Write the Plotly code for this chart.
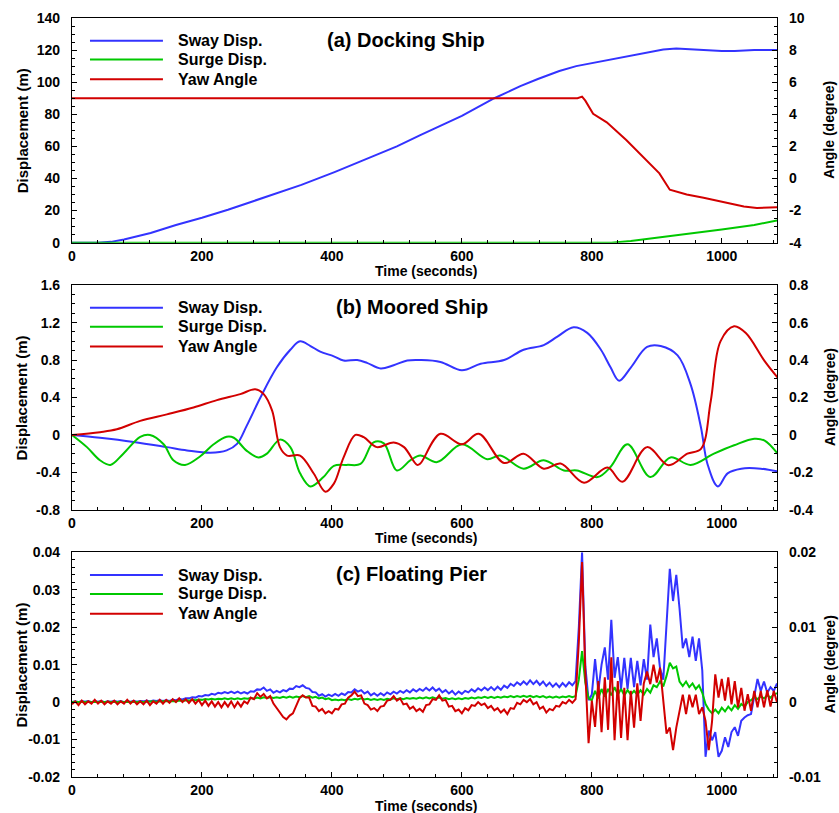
import plotly.graph_objects as go
from plotly.subplots import make_subplots

FONT = "Liberation Sans, Arial, sans-serif"
BLUE = "rgb(51,51,255)"
GREEN = "rgb(0,200,0)"
RED = "rgb(210,0,0)"

# ---------------- (a) Docking Ship ----------------
t_a_sway = [0, 40, 60, 80, 121, 160, 200, 240, 280, 320, 353, 404, 456, 500, 536, 600,
            650, 690, 717, 750, 776, 810, 843, 880, 910, 930, 950, 975, 1000, 1020, 1050, 1085]
sway_a = [0, 0, 0.5, 2, 6, 11, 15.5, 20.5, 26, 31.5, 36, 44, 52.6, 60, 67, 79,
          90, 97.5, 102, 107, 110, 112.5, 115, 118, 120.3, 121, 120.5, 120, 119.5, 119.5, 120, 120]
t_a_surge = [0, 830, 860, 900, 950, 1000, 1050, 1085]
surge_a = [0, 0, 1, 3, 5.5, 8.2, 11, 13.8]
t_a_yaw = [0, 778, 785, 790, 802, 823, 853, 884, 904, 920, 946, 972, 1008, 1034, 1054, 1070, 1085]
yaw_a = [5, 5, 5.1, 4.85, 4.03, 3.5, 2.4, 1.15, 0.32, -0.7, -1.0, -1.2, -1.5, -1.74, -1.84, -1.84, -1.8]

# ---------------- (b) Moored Ship ----------------
t_b_sway = [0, 43, 95, 146, 177, 213, 238, 254, 269, 290, 315, 336, 351, 367, 382, 403,
            418, 439, 454, 475, 495, 516, 536, 567, 600, 629, 665, 695, 726, 747, 772, 793,
            814, 829, 842, 860, 885, 906, 932, 952, 968, 978, 994, 1009, 1030, 1060, 1086]
sway_b = [0, -0.03, -0.075, -0.13, -0.165, -0.19, -0.165, -0.095, 0.1, 0.4, 0.72, 0.91, 1.0, 0.95, 0.89, 0.84,
          0.795, 0.8, 0.77, 0.71, 0.745, 0.795, 0.8, 0.78, 0.69, 0.76, 0.8, 0.91, 0.96, 1.05, 1.15, 1.09,
          0.91, 0.72, 0.58, 0.72, 0.94, 0.95, 0.85, 0.54, 0.08, -0.31, -0.55, -0.41, -0.36, -0.36, -0.39]
t_b_surge = [0, 23, 43, 59, 79, 105, 120, 141, 156, 174, 197, 218, 238, 249, 269, 287, 300,
             320, 336, 351, 367, 387, 403, 423, 444, 464, 480, 500, 521, 536, 562, 600, 639,
             659, 695, 726, 757, 777, 809, 829, 855, 890, 921, 952, 988, 1019, 1050, 1066, 1086]
surge_b = [0, -0.13, -0.27, -0.32, -0.2, -0.02, 0, -0.1, -0.27, -0.32, -0.23, -0.1, -0.02, -0.03, -0.17, -0.24, -0.2,
           -0.05, -0.13, -0.41, -0.55, -0.45, -0.33, -0.32, -0.31, -0.08, -0.09, -0.38, -0.27, -0.22, -0.29, -0.1, -0.26,
           -0.22, -0.36, -0.27, -0.38, -0.38, -0.45, -0.34, -0.1, -0.45, -0.24, -0.32, -0.2, -0.11, -0.04, -0.06, -0.2]
t_b_yaw = [0, 43, 69, 105, 146, 187, 223, 259, 282, 295, 308, 320, 331, 351, 372, 390, 403,
           418, 436, 449, 469, 495, 511, 531, 536, 567, 600, 626, 665, 695, 726, 752, 788,
           824, 847, 885, 918, 947, 968, 983, 998, 1019, 1037, 1066, 1086]
yaw_b = [0, 0.015, 0.03, 0.075, 0.11, 0.147, 0.186, 0.218, 0.244, 0.218, 0.13, -0.065, -0.11, -0.11, -0.206, -0.303, -0.26,
         -0.12, 0.0, -0.012, -0.065, -0.04, -0.065, -0.16, -0.153, 0.006, -0.05, 0.006, -0.15, -0.1, -0.18, -0.153, -0.255,
         -0.174, -0.25, -0.065, -0.162, -0.1, -0.074, 0.18, 0.5, 0.58, 0.544, 0.394, 0.306]

# ---------------- (c) Floating Pier ----------------
# sampled every 5 s; displacements in millimetres, yaw in millidegrees
t_c = list(range(0, 1086, 5))
sway_c_mm = [
    0, 0.2, 0, 0.3, 0.1, 0.3, 0, 0.2, 0.1, 0.3, 0, 0.2, 0.1, 0.3, 0.1, 0.3, 0, 0.2, 0.1, 0.3,
    0.1, 0.3, 0.2, 0.4, 0.2, 0.4, 0.3, 0.5, 0.3, 0.5, 0.3, 0.6, 0.5, 0.8, 0.7, 1.0, 1.0, 1.3, 1.2, 1.6,
    1.5, 1.9, 1.8, 2.2, 2.0, 2.5, 2.3, 2.7, 2.4, 2.8, 2.4, 2.8, 2.3, 2.7, 2.3, 2.9, 2.8, 3.4, 3.3, 3.9,
    3.0, 3.4, 2.5, 3.0, 2.6, 3.2, 2.9, 3.6, 3.5, 4.3, 4.0, 4.5, 3.8, 3.6, 2.7, 2.6, 1.7, 2.1, 1.5, 2.0,
    1.6, 2.2, 1.7, 2.3, 1.9, 2.7, 2.6, 3.4, 2.8, 3.2, 2.3, 2.8, 1.8, 2.4, 1.7, 2.4, 1.8, 2.6, 2.1, 2.8,
    2.3, 3.0, 2.5, 3.2, 2.6, 3.4, 2.8, 3.5, 3.0, 3.8, 3.1, 3.9, 3.0, 3.6, 2.6, 3.2, 2.3, 3.0, 2.0, 2.8,
    2.2, 3.0, 2.6, 3.4, 2.8, 3.7, 3.1, 3.9, 3.2, 4.0, 3.2, 4.1, 3.3, 4.4, 3.8, 4.9, 4.3, 5.3, 4.6, 5.5,
    4.7, 5.8, 4.8, 5.7, 4.6, 5.5, 4.3, 5.2, 4.1, 5.0, 4.0, 5.1, 4.2, 5.3, 4.5, 5.6, 20.0, 40.0, 9.6, 0.5,
    2.0, 11.5, 3.0, 10.0, 14.6, 6.0, 22.0, 6.5, 12.0, 3.5, 11.8, 3.5, 11.8, 4.0, 11.0, 4.5, 11.5, 6.0, 20.7, 12.0,
    17.0, 9.0, 6.0, 22.0, 35.6, 27.0, 34.0, 25.0, 14.4, 17.0, 12.0, 17.5, 11.0, 17.0, 8.4, -14.6, -7.6, -10.2, -8.0, -14.6,
    -13.0, -9.4, -12.0, -8.0, -6.7, -9.0, -5.0, -4.1, -3.5, -3.2, 1.2, 6.2, 3.0, 5.5, 2.5, 4.0, 3.0, 5.0,
]
surge_c_mm = [
    0, 0.1, 0, 0.1, 0, 0.1, 0, 0.1, 0, 0.1, 0, 0.1, 0, 0.1, 0, 0.1, 0, 0.1, 0, 0.1,
    0, 0.1, 0, 0.1, 0.1, 0.2, 0.1, 0.2, 0.1, 0.3, 0.2, 0.3, 0.2, 0.4, 0.3, 0.5, 0.4, 0.6, 0.5, 0.7,
    0.6, 0.8, 0.7, 0.9, 0.7, 0.9, 0.8, 1.0, 0.8, 1.0, 0.8, 1.0, 0.8, 1.0, 0.9, 1.1, 0.9, 1.2, 1.0, 1.3,
    1.1, 1.3, 1.1, 1.3, 1.1, 1.4, 1.2, 1.5, 1.2, 1.5, 1.3, 1.6, 1.3, 1.6, 1.2, 1.4, 1.0, 1.2, 0.8, 1.0,
    0.5, 0.7, 0.5, 0.7, 0.5, 0.8, 0.6, 0.9, 0.7, 1.0, 0.7, 0.9, 0.6, 0.8, 0.6, 0.8, 0.6, 0.9, 0.7, 1.0,
    0.8, 1.0, 0.8, 1.1, 0.9, 1.1, 0.9, 1.2, 1.0, 1.3, 1.0, 1.3, 1.0, 1.2, 0.9, 1.1, 0.8, 1.0, 0.8, 1.0,
    0.8, 1.1, 0.9, 1.2, 1.0, 1.3, 1.1, 1.4, 1.1, 1.4, 1.1, 1.4, 1.2, 1.5, 1.3, 1.6, 1.3, 1.6, 1.4, 1.7,
    1.4, 1.7, 1.3, 1.6, 1.3, 1.6, 1.2, 1.5, 1.2, 1.5, 1.2, 1.5, 1.3, 1.6, 1.3, 1.6, 6.0, 13.6, 5.2, 1.0,
    0.5, 3.0, 1.0, 3.5, 1.5, 3.5, 1.8, 4.0, 2.0, 3.5, 1.8, 3.2, 2.0, 3.0, 2.0, 3.2, 2.0, 3.5, 2.5, 4.5,
    4.0, 5.5, 4.2, 7.0, 10.5, 9.0, 9.5, 5.5, 4.3, 5.5, 4.0, 5.0, 3.5, 4.5, 2.5, -0.5, -2.0, -3.0, -2.0, -3.0,
    -1.5, -2.5, -1.2, -2.2, -0.8, -1.8, -0.5, -1.2, 0.0, 0.5, 1.3, 0.8, 1.5, 1.0, 1.8, 1.2, 2.0, 2.4,
]
yaw_c_mdeg = [
    -0.3, 0.1, -0.4, 0.2, -0.3, 0.1, -0.2, 0.3, -0.2, 0.2, -0.3, 0.1, -0.2, 0.2, -0.3, 0.1, -0.2, 0.3, -0.2, 0.2,
    -0.3, 0.1, -0.3, 0.2, -0.4, 0.1, -0.2, 0.3, -0.2, 0.3, -0.1, 0.4, 0.0, 0.5, 0.0, 0.4, -0.1, 0.4, -0.2, 0.3,
    -0.4, 0.2, -0.5, 0.1, -0.6, 0.0, -0.7, 0.0, -0.6, 0.1, -0.7, 0.0, -0.6, 0.1, -0.2, 0.6, 0.4, 1.2, 0.7, 1.1,
    0.5, 0.8, -0.2, -0.8, -1.5, -2.0, -2.3, -1.8, -1.5, -0.5, 0.5, 0.9, 0.6, 0.6, -0.5, -0.6, -1.2, -0.9, -1.5, -1.2,
    -1.5, -0.9, -1.0, -0.3, -0.2, 0.6, 0.9, 1.4, 0.8, 0.9, -0.2, -0.4, -1.0, -0.8, -1.2, -0.6, -0.5, 0.2, 0.3, 0.8,
    0.2, 0.5, -0.3, -0.2, -0.9, -0.6, -1.2, -0.9, -1.3, -0.4, -0.3, 0.4, 0.3, 0.9, 0.2, 0.3, -0.6, -0.5, -1.2, -1.0,
    -1.5, -0.8, -1.1, -0.4, -0.5, 0.0, -0.4, -0.2, -0.8, -0.5, -1.1, -0.8, -1.4, -1.0, -1.6, -0.8, -0.9, -0.1, -0.3, 0.3,
    0.0, 0.4, -0.3, 0.0, -0.9, -0.6, -1.4, -0.9, -1.1, -0.5, -0.6, 0.0, -0.2, 0.3, -0.1, 0.4, 8.0, 18.7, 3.9, -5.5,
    0.2, -3.3, 2.8, -4.0, 3.3, -3.7, 6.0, -5.1, 2.8, -4.8, 1.9, -5.1, 1.5, -3.4, 2.5, -2.5, 2.5, 4.1, 2.4, 5.0,
    2.6, 4.6, 0.6, -4.2, -3.4, -6.4, -3.4, -1.2, 1.0, -1.6, 1.0, -0.7, 1.0, -1.6, -0.7, -2.5, -6.4, -2.6, 3.7, 0.6,
    3.1, 0.2, 3.3, -0.3, 2.8, -0.7, 1.9, -1.15, 1.05, -1.15, 1.5, -0.7, 1.5, -0.7, 1.6, -0.6, 1.5, 0.0,
]
sway_c = [v / 1000 for v in sway_c_mm]
surge_c = [v / 1000 for v in surge_c_mm]
yaw_c = [v / 1000 for v in yaw_c_mdeg]

series_names = ["Sway Disp.", "Surge Disp.", "Yaw Angle"]
titles = ["(a) Docking Ship", "(b) Moored Ship", "(c) Floating Pier"]
title_x = [0.474, 0.482, 0.482]

left_ticks = [[0, 20, 40, 60, 80, 100, 120, 140],
              [-0.8, -0.4, 0, 0.4, 0.8, 1.2, 1.6],
              [-0.02, -0.01, 0, 0.01, 0.02, 0.03, 0.04]]
left_text = [["0", "20", "40", "60", "80", "100", "120", "140"],
             ["-0.8", "-0.4", "0", "0.4", "0.8", "1.2", "1.6"],
             ["-0.02", "-0.01", "0", "0.01", "0.02", "0.03", "0.04"]]
right_ticks = [[-4, -2, 0, 2, 4, 6, 8, 10],
               [-0.4, -0.2, 0, 0.2, 0.4, 0.6, 0.8],
               [-0.01, 0, 0.01, 0.02]]
right_text = [["-4", "-2", "0", "2", "4", "6", "8", "10"],
              ["-0.4", "-0.2", "0", "0.2", "0.4", "0.6", "0.8"],
              ["-0.01", "0", "0.01", "0.02"]]
left_minor = [5, 0.1, 0.002]
right_minor = [0.5, 0.05, 0.002]
time_ticks = [0, 200, 400, 600, 800, 1000]

fig = make_subplots(rows=3, cols=1, specs=[[{"secondary_y": True}]] * 3)

panels = [
    ((t_a_sway, sway_a), (t_a_surge, surge_a), (t_a_yaw, yaw_a), "linear"),
    ((t_b_sway, sway_b), (t_b_surge, surge_b), (t_b_yaw, yaw_b), "spline"),
    ((t_c, sway_c), (t_c, surge_c), (t_c, yaw_c), "linear"),
]
for i, (sw, su, ya, shape) in enumerate(panels):
    row = i + 1
    fig.add_trace(go.Scatter(x=sw[0], y=sw[1], mode="lines", name=series_names[0],
                             line=dict(color=BLUE, width=2, shape=shape), showlegend=False),
                  row=row, col=1, secondary_y=False)
    fig.add_trace(go.Scatter(x=su[0], y=su[1], mode="lines", name=series_names[1],
                             line=dict(color=GREEN, width=2, shape=shape), showlegend=False),
                  row=row, col=1, secondary_y=False)
    fig.add_trace(go.Scatter(x=ya[0], y=ya[1], mode="lines", name=series_names[2],
                             line=dict(color=RED, width=2, shape=shape), showlegend=False),
                  row=row, col=1, secondary_y=True)

tick_font = dict(family=FONT, size=14, color="black", weight="bold")
domains = [[0.704, 1.0], [0.352, 0.648], [0.0, 0.296]]
layout = {}
for i in range(3):
    xname = "xaxis" if i == 0 else f"xaxis{i + 1}"
    yl = "yaxis" if i == 0 else f"yaxis{2 * i + 1}"
    yr = f"yaxis{2 * i + 2}"
    layout[xname] = dict(domain=[0, 1], range=[0, 1085], tickmode="array", tickvals=time_ticks,
                         ticktext=[str(v) for v in time_ticks], ticks="inside", ticklen=5,
                         minor=dict(tick0=0, dtick=40, ticks="inside", ticklen=3, tickcolor="black"),
                         showline=True, linecolor="black", linewidth=1.2, mirror=True,
                         showgrid=False, zeroline=False, tickfont=tick_font, tickcolor="black",
                         ticklabelstandoff=0)
    layout[yl] = dict(domain=domains[i], range=[left_ticks[i][0], left_ticks[i][-1]],
                      tickmode="array", tickvals=left_ticks[i], ticktext=left_text[i],
                      ticks="inside", ticklen=5, tickcolor="black",
                      minor=dict(tick0=0, dtick=left_minor[i], ticks="inside", ticklen=3, tickcolor="black"),
                      showline=True, linecolor="black", linewidth=1.2, showgrid=False, zeroline=False,
                      tickfont=tick_font, ticklabelstandoff=8)
    layout[yr] = dict(domain=domains[i], range=[right_ticks[i][0], right_ticks[i][-1]],
                      tickmode="array", tickvals=right_ticks[i], ticktext=right_text[i],
                      ticks="inside", ticklen=5, tickcolor="black",
                      minor=dict(tick0=0, dtick=right_minor[i], ticks="inside", ticklen=3, tickcolor="black"),
                      showline=True, linecolor="black", linewidth=1.2, showgrid=False, zeroline=False,
                      tickfont=tick_font, ticklabelstandoff=8, anchor="x" if i == 0 else f"x{i + 1}")

fig.update_layout(**layout)

label_font = dict(family=FONT, size=15, color="black", weight="bold")
shapes = []
annotations = []
for i in range(3):
    xr = "x" if i == 0 else f"x{i + 1}"
    yb = "y" if i == 0 else f"y{2 * i + 1}"
    # panel title
    annotations.append(dict(text=titles[i], xref=f"{xr} domain", yref=f"{yb} domain",
                            x=title_x[i], y=0.903, showarrow=False, xanchor="center", yanchor="middle",
                            font=dict(family=FONT, size=20, color="black", weight="bold")))
    # legend entries
    for k, (name, col) in enumerate(zip(series_names, [BLUE, GREEN, RED])):
        yy = [0.899, 0.815, 0.727][k]
        shapes.append(dict(type="line", xref=f"{xr} domain", yref=f"{yb} domain",
                           x0=0.0255, x1=0.129, y0=yy, y1=yy, line=dict(color=col, width=2)))
        annotations.append(dict(text=name, xref=f"{xr} domain", yref=f"{yb} domain",
                                x=0.1475, y=yy, showarrow=False, xanchor="left", yanchor="middle",
                                font=dict(family=FONT, size=16, color="black", weight="bold")))
    # axis titles
    annotations.append(dict(text="Displacement (m)", xref="paper", yref=f"{yb} domain",
                            x=-0.071, y=0.5, textangle=-90, showarrow=False,
                            xanchor="center", yanchor="middle", font=label_font))
    annotations.append(dict(text="Angle (degree)", xref="paper", yref=f"{yb} domain",
                            x=1.0745, y=0.5, textangle=-90, showarrow=False,
                            xanchor="center", yanchor="middle",
                            font=dict(family=FONT, size=14, color="black", weight="bold")))
    annotations.append(dict(text="Time (seconds)", xref=f"{xr} domain", yref=f"{yb} domain",
                            x=0.502, y=-0.083, showarrow=False,
                            xanchor="center", yanchor="top",
                            font=dict(family=FONT, size=14, color="black", weight="bold")))

fig.update_layout(width=839, height=813, margin=dict(l=72, r=62, t=10, b=36),
                  paper_bgcolor="white", plot_bgcolor="white", showlegend=False,
                  shapes=shapes, annotations=annotations)

fig.write_html("out.html")
